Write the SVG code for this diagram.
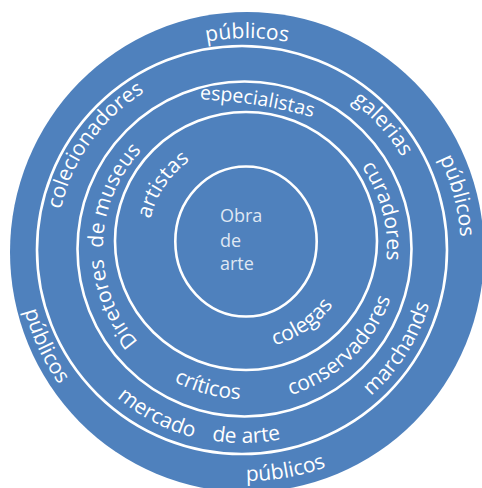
<svg xmlns="http://www.w3.org/2000/svg" xmlns:xlink="http://www.w3.org/1999/xlink" width="482" height="488" viewBox="0 0 482 488">
<style>
.ring{fill:none;stroke:#ffffff;stroke-width:2.6}
.lbl{font-family:"Open Sans","Noto Sans","Liberation Sans",sans-serif;font-size:21px;fill:#ffffff}
.mid{text-anchor:middle}
.ctr{font-family:"Open Sans","Noto Sans","Liberation Sans",sans-serif;font-size:18px;fill:#dfe7f3}
</style>
<defs>
<path id="p1" d="M61.7,145 A214,214 0 0 1 432.3,145"/>
<path id="p2" d="M302.4,45.3 A214,214 0 0 1 398.3,403.3"/>
<path id="p3" d="M58.6,120.1 A230,230 0 0 0 227,481.1"/>
<path id="p4" d="M71.6,399.2 A229,229 0 0 0 462.2,330.3"/>
<path id="p5" d="M74.2,329.1 A185,185 0 0 1 262.3,66"/>
<path id="p6" d="M204.7,70 A184,184 0 0 1 418,306.9"/>
<path id="p7" d="M234.5,443.8 A194,194 0 0 0 415.1,160.4"/>
<path id="p8" d="M49.2,257.8 A194,194 0 0 0 346.7,414"/>
<path id="p9" d="M77.6,349.4 A193,193 0 0 0 411.8,343.6"/>
<path id="p10" d="M134.9,100.8 A500,500 0 0 1 373.9,138.6"/>
<path id="p11" d="M281.8,110.8 A142,142 0 0 1 345.4,348.4"/>
<path id="p12" d="M194.1,380.6 A142,142 0 0 1 198.8,113.7"/>
<path id="p13" d="M202.6,396 A154,154 0 0 0 394.4,210.7"/>
<path id="p14" d="M99.1,287.1 A151,151 0 0 0 351.8,354.8"/>
<path id="p15" d="M157.9,284 A98,98 0 0 1 252.8,143.2"/>
<path id="p16" d="M199.5,338.5 A108,108 0 0 0 353.7,232.5"/>
</defs>
<g id="outer-ring">
<ellipse cx="247" cy="252" rx="237" ry="240" fill="#4f81bd"/>
<text class="lbl mid"><textPath href="#p1" xlink:href="#p1" startOffset="50%">públicos</textPath></text>
<text class="lbl mid"><textPath href="#p2" xlink:href="#p2" startOffset="50%">públicos</textPath></text>
<text class="lbl mid"><textPath href="#p3" xlink:href="#p3" startOffset="50%">públicos</textPath></text>
<text class="lbl mid"><textPath href="#p4" xlink:href="#p4" startOffset="50%">públicos</textPath></text>
</g>
<g id="ring-1">
<ellipse class="ring" cx="242" cy="250" rx="205" ry="204"/>
<text class="lbl mid"><textPath href="#p5" xlink:href="#p5" startOffset="50%">colecionadores</textPath></text>
<text class="lbl mid"><textPath href="#p6" xlink:href="#p6" startOffset="50%">galerias</textPath></text>
<text class="lbl mid"><textPath href="#p7" xlink:href="#p7" startOffset="50%">marchands</textPath></text>
<text class="lbl mid"><textPath href="#p8" xlink:href="#p8" startOffset="50%">mercado</textPath></text>
<text class="lbl mid"><textPath href="#p9" xlink:href="#p9" startOffset="50%">de arte</textPath></text>
</g>
<g id="ring-2">
<ellipse class="ring" cx="244.5" cy="249" rx="167" ry="167.5"/>
<text class="lbl mid" style="font-size:19.5px"><textPath href="#p10" xlink:href="#p10" startOffset="50%">especialistas</textPath></text>
<text class="lbl mid"><textPath href="#p11" xlink:href="#p11" startOffset="50%">curadores</textPath></text>
<text class="lbl mid"><textPath href="#p12" xlink:href="#p12" startOffset="50%">Diretores&#160; de museus</textPath></text>
<text class="lbl mid"><textPath href="#p13" xlink:href="#p13" startOffset="50%">conservadores</textPath></text>
<text class="lbl mid"><textPath href="#p14" xlink:href="#p14" startOffset="50%">críticos</textPath></text>
</g>
<g id="ring-3">
<ellipse class="ring" cx="246" cy="241" rx="131" ry="129"/>
<text class="lbl mid"><textPath href="#p15" xlink:href="#p15" startOffset="50%">artistas</textPath></text>
<text class="lbl mid"><textPath href="#p16" xlink:href="#p16" startOffset="50%">colegas</textPath></text>
</g>
<g id="obra-de-arte">
<ellipse class="ring" cx="246" cy="241.5" rx="70.7" ry="75"/>
<text class="ctr" x="220" y="221.5">Obra</text>
<text class="ctr" x="220" y="246.5">de</text>
<text class="ctr" x="220" y="270">arte</text>
</g>
</svg>
